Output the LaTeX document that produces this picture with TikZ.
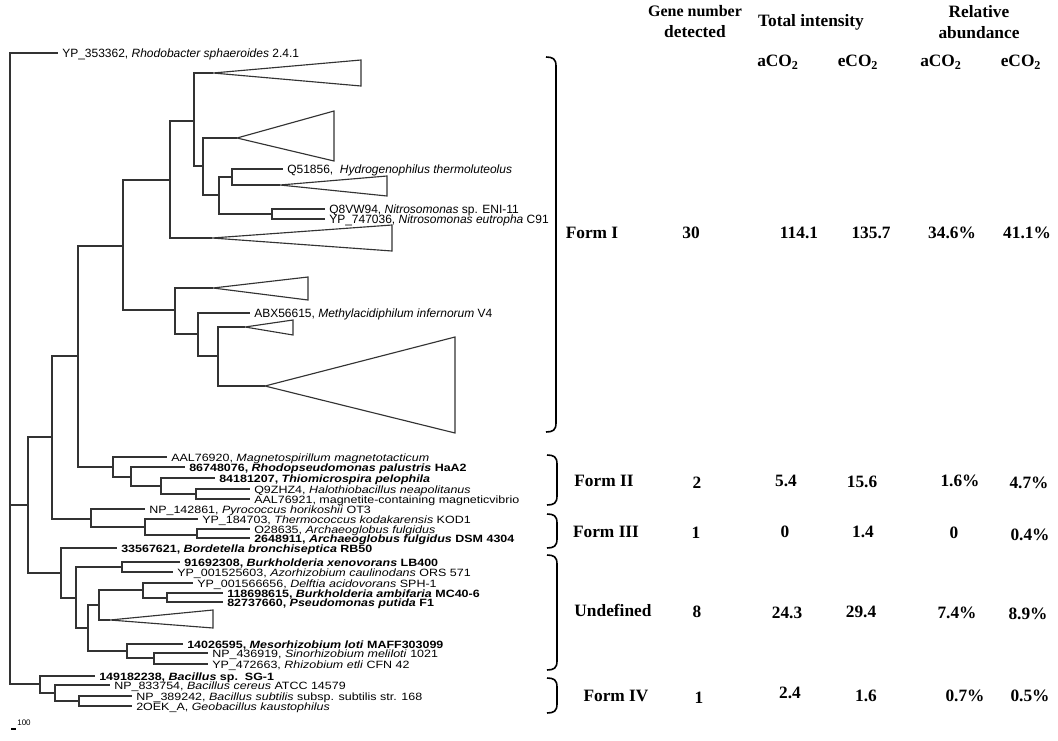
\documentclass[tikz,border=0pt]{standalone}
\usepackage{fontspec}
\setmainfont{Liberation Serif}
\newfontfamily\arialf{Liberation Sans}
\usepackage{graphicx}
\newcommand{\sq}[1]{\scalebox{1.04}[0.88]{#1}}
\newcommand{\mkleaf}[5][lab]{\coordinate (#2) at (#3,#4);\node[#1] (#2L) at (#3+4,#4+4) {#5};}
\newcommand{\mktri}[6]{\coordinate (#1) at (#2,#3);\draw[tree] (#1) -- (#4,#5) -- (#4,#6) -- cycle;}
\newcommand{\brc}[3]{\draw[brc] (#1-10,#2) .. controls (#1-3,#2) and (#1,#2+2) .. (#1,#2+9) -- (#1,#3-9) .. controls (#1,#3-2) and (#1-3,#3) .. (#1-10,#3);}
\tikzset{
  tree/.style={line width=0.85pt, draw=black!80},
  lab/.style={anchor=base west, inner sep=0pt, font=\arialf\fontsize{9}{9}\selectfont},
  brc/.style={line width=1.2pt, draw=black},
  hdr/.style={font=\bfseries\fontsize{13}{15.75}\selectfont, align=center, inner sep=0pt},
  val/.style={font=\bfseries\fontsize{13}{13}\selectfont, inner sep=0pt}
}
\begin{document}
\begin{tikzpicture}[x=0.75pt,y=-0.75pt]
\useasboundingbox[fill=white] (0,0) rectangle (1058,740);
% internal nodes
\coordinate (r) at (10,368);
\coordinate (nA0) at (28,505);
\coordinate (nA) at (52,437);
\coordinate (nA1) at (78,356);
\coordinate (nF1) at (123,246);
\coordinate (nF1a) at (170,180);
\coordinate (nF1b) at (194,121);
\coordinate (nF1c) at (203,166);
\coordinate (nF1d) at (219,195);
\coordinate (nF1e) at (232,177);
\coordinate (nF1f) at (272,214);
\coordinate (nF1g) at (175,310);
\coordinate (nF1h) at (198,334);
\coordinate (nF1i) at (218,356);
\coordinate (nF2) at (113,467);
\coordinate (nF2a) at (131,477);
\coordinate (nF2b) at (161,486);
\coordinate (nF2c) at (196,494);
\coordinate (nF3) at (91,519);
\coordinate (nF3a) at (145,527);
\coordinate (nF3b) at (197,535);
\coordinate (nU) at (61,573);
\coordinate (nUa) at (76,598);
\coordinate (nUb) at (122,567);
\coordinate (nUc) at (88,628);
\coordinate (nUd) at (99,605);
\coordinate (nUe) at (143,590);
\coordinate (nUf) at (167,598);
\coordinate (nUg) at (127,651);
\coordinate (nUh) at (154,658);
\coordinate (nB) at (40,684);
\coordinate (nBa) at (55,693);
\coordinate (nBb) at (79,701);
% collapsed clades
\mktri{t1}{213}{73}{361}{60}{86}
\mktri{t2}{237}{138}{334}{111}{161}
\mktri{t3}{280}{185}{387}{176}{196}
\mktri{t4}{212}{238}{392}{225}{251}
\mktri{t5}{213}{288}{308}{277}{300}
\mktri{t6}{245}{327}{293}{320}{335}
\mktri{t7}{265}{386}{455}{337}{433}
\mktri{t8}{110}{620}{213}{610}{628}
% leaves
\mkleaf{tRho}{58}{53}{YP\_353362, \textit{Rhodobacter sphaeroides} 2.4.1}
\mkleaf{lQ51856}{283}{169}{Q51856,\ \ \textit{Hydrogenophilus thermoluteolus}}
\mkleaf{lQ8V}{325}{209}{Q8VW94, \textit{Nitrosomonas} sp. ENI-11}
\mkleaf{lYP747}{325}{219}{YP\_747036, \textit{Nitrosomonas eutropha} C91}
\mkleaf{lABX}{250}{313}{ABX56615, \textit{Methylacidiphilum infernorum} V4}
\mkleaf{lAAL20}{167}{457}{\sq{AAL76920, \textit{Magnetospirillum magnetotacticum}}}
\mkleaf{l8674}{185}{467}{\sq{\bfseries 86748076, \textit{Rhodopseudomonas palustris} HaA2}}
\mkleaf{l8418}{215}{478}{\sq{\bfseries 84181207, \textit{Thiomicrospira pelophila}}}
\mkleaf{lQ9Z}{250}{489}{\sq{Q9ZHZ4, \textit{Halothiobacillus neapolitanus}}}
\mkleaf{lAAL21}{250}{499}{\sq{AAL76921, magnetite-containing magneticvibrio}}
\mkleaf{lNP142}{145}{509}{\sq{NP\_142861, \textit{Pyrococcus horikoshii} OT3}}
\mkleaf{lYP184}{198}{519}{\sq{YP\_184703, \textit{Thermococcus kodakarensis} KOD1}}
\mkleaf{lO286}{250}{529}{\sq{O28635, \textit{Archaeoglobus fulgidus}}}
\mkleaf{l2648}{250}{538}{\sq{\bfseries 2648911, \textit{Archaeoglobus fulgidus} DSM 4304}}
\mkleaf{l3356}{117}{548}{\sq{\bfseries 33567621, \textit{Bordetella bronchiseptica} RB50}}
\mkleaf{l9169}{180}{562}{\sq{\bfseries 91692308, \textit{Burkholderia xenovorans} LB400}}
\mkleaf{lYPa}{173}{572}{\sq{YP\_001525603, \textit{Azorhizobium caulinodans} ORS 571}}
\mkleaf{lYPb}{193}{583}{\sq{YP\_001566656, \textit{Delftia acidovorans} SPH-1}}
\mkleaf{l1186}{223}{593}{\sq{\bfseries 118698615, \textit{Burkholderia ambifaria} MC40-6}}
\mkleaf{l8273}{223}{602}{\sq{\bfseries 82737660, \textit{Pseudomonas putida} F1}}
\mkleaf{l1402}{183}{644}{\sq{\bfseries 14026595, \textit{Mesorhizobium loti} MAFF303099}}
\mkleaf{lNP436}{208}{653}{\sq{NP\_436919, \textit{Sinorhizobium meliloti} 1021}}
\mkleaf{lYP472}{208}{664}{\sq{YP\_472663, \textit{Rhizobium etli} CFN 42}}
\mkleaf{l1491}{95}{676}{\sq{\bfseries 149182238, \textit{Bacillus} sp.\ \ SG-1}}
\mkleaf{lNP833}{110}{685}{\sq{NP\_833754, \textit{Bacillus cereus} ATCC 14579}}
\mkleaf{lNP389}{132}{696}{\sq{NP\_389242, \textit{Bacillus subtilis} subsp. subtilis str. 168}}
\mkleaf{l2OEK}{132}{706}{\sq{2OEK\_A, \textit{Geobacillus kaustophilus}}}
% branches
\foreach \p/\c in {r/tRho, r/nA0, r/nB, nA0/nA, nA0/nU, nA/nA1, nA/nF3, nA1/nF1, nA1/nF2,
  nF1/nF1a, nF1/nF1g, nF1a/nF1b, nF1a/t4, nF1b/t1, nF1b/nF1c, nF1c/t2, nF1c/nF1d,
  nF1d/nF1e, nF1d/nF1f, nF1e/lQ51856, nF1e/t3, nF1f/lQ8V, nF1f/lYP747,
  nF1g/t5, nF1g/nF1h, nF1h/lABX, nF1h/nF1i, nF1i/t6, nF1i/t7,
  nF2/lAAL20, nF2/nF2a, nF2a/l8674, nF2a/nF2b, nF2b/l8418, nF2b/nF2c, nF2c/lQ9Z, nF2c/lAAL21,
  nF3/lNP142, nF3/nF3a, nF3a/lYP184, nF3a/nF3b, nF3b/lO286, nF3b/l2648,
  nU/l3356, nU/nUa, nUa/nUb, nUa/nUc, nUb/l9169, nUb/lYPa, nUc/nUd, nUc/nUg,
  nUd/nUe, nUd/t8, nUe/lYPb, nUe/nUf, nUf/l1186, nUf/l8273, nUg/l1402, nUg/nUh,
  nUh/lNP436, nUh/lYP472, nB/l1491, nB/nBa, nBa/lNP833, nBa/nBb, nBb/lNP389, nBb/l2OEK}
  \draw[tree] (\p) |- (\c);
% scale bar
\coordinate (sb1) at (11,729);
\coordinate (sb2) at (16,729);
\draw[line width=0.8pt] (sb1) -- (sb2);
\node[inner sep=0pt, font=\arialf\fontsize{6}{6}\selectfont] (sbl) at (24,723) {100};
% braces
\brc{556}{57}{432}
\brc{557}{455}{505}
\brc{557}{514}{548}
\brc{557}{555}{670}
\brc{557}{678}{713}
% header
\node[hdr] (hGene) at (695,22) {{\fontsize{12}{15.75}\selectfont Gene number}\\detected};
\node[hdr] (hTot) at (811,22) {Total intensity};
\node[hdr] (hRel) at (979,22) {Relative\\abundance};
\node[val] (c1) at (778,62) {aCO\textsubscript{2}};
\node[val] (c2) at (858,62) {eCO\textsubscript{2}};
\node[val] (c3) at (941,62) {aCO\textsubscript{2}};
\node[val] (c4) at (1021,62) {eCO\textsubscript{2}};
% rows
\node[val] (f1) at (592,233) {Form I};
\node[val] (f1a) at (691,233) {30};
\node[val] (f1b) at (799,233) {114.1};
\node[val] (f1c) at (871,233) {135.7};
\node[val] (f1d) at (952,233) {34.6\%};
\node[val] (f1e) at (1027,233) {41.1\%};
\node[val] (f2) at (604,481) {Form II};
\node[val] (f2a) at (697,483) {2};
\node[val] (f2b) at (786,481) {5.4};
\node[val] (f2c) at (862,482) {15.6};
\node[val] (f2d) at (960,481) {1.6\%};
\node[val] (f2e) at (1029,483) {4.7\%};
\node[val] (f3) at (606,532) {Form III};
\node[val] (f3a) at (696,533) {1};
\node[val] (f3b) at (785,532) {0};
\node[val] (f3c) at (863,532) {1.4};
\node[val] (f3d) at (954,533) {0};
\node[val] (f3e) at (1030,535) {0.4\%};
\node[val] (f4) at (613,610) {Undefined};
\node[val] (f4a) at (697,612) {8};
\node[val] (f4b) at (787,613) {24.3};
\node[val] (f4c) at (861,612) {29.4};
\node[val] (f4d) at (957,613) {7.4\%};
\node[val] (f4e) at (1028,614) {8.9\%};
\node[val] (f5) at (616,696) {Form IV};
\node[val] (f5a) at (699,698) {1};
\node[val] (f5b) at (790,693) {2.4};
\node[val] (f5c) at (866,696) {1.6};
\node[val] (f5d) at (965,696) {0.7\%};
\node[val] (f5e) at (1030,696) {0.5\%};
\end{tikzpicture}
\end{document}
